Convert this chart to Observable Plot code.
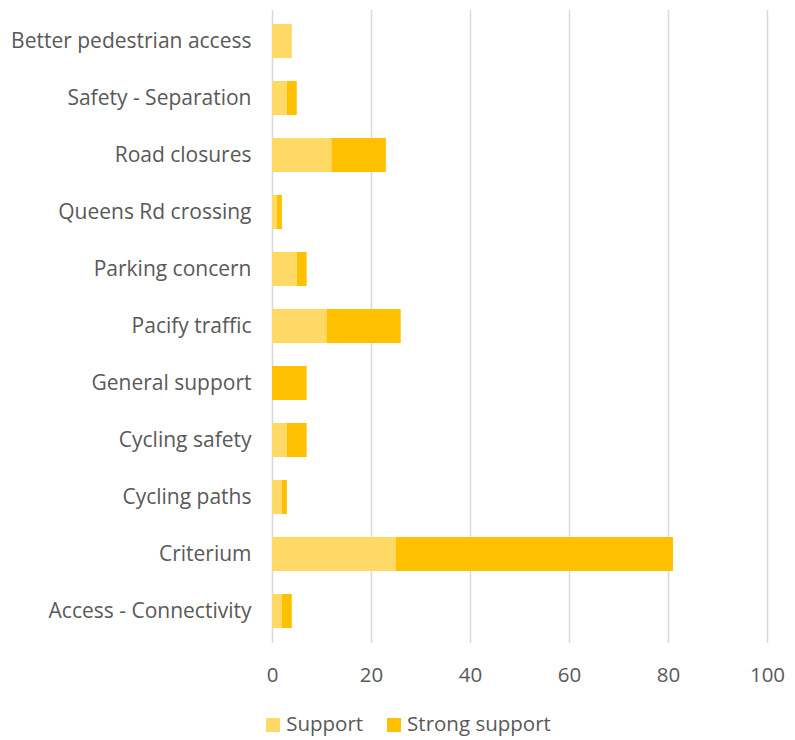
<!DOCTYPE html>
<html>
<head>
<meta charset="utf-8">
<script src="https://cdn.jsdelivr.net/npm/d3@7"></script>
<script src="https://cdn.jsdelivr.net/npm/@observablehq/plot@0.6"></script>
<style>
  body { margin: 0; background: #fff; font-family: "Open Sans", "Noto Sans", sans-serif; }
  #legend { display: flex; justify-content: center; gap: 24px; font-size: 20.5px; color: #595959; margin-top: 14px; padding-left: 22px; }
  #legend span.sw { display: inline-block; width: 14px; height: 14px; margin-right: 6px; vertical-align: -1px; }
</style>
</head>
<body>
<div id="chart"></div>
<div id="legend"></div>
<script>
const categories = ["Better pedestrian access", "Safety - Separation", "Road closures", "Queens Rd crossing", "Parking concern", "Pacify traffic", "General support", "Cycling safety", "Cycling paths", "Criterium", "Access - Connectivity"];
const support =       [4, 3, 12, 1, 5, 11, 0, 3, 2, 25, 2];
const strongSupport = [0, 2, 11, 1, 2, 15, 7, 4, 1, 56, 2];
const seriesNames = ["Support", "Strong support"];
const seriesColors = ["#FFD966", "#FFC000"];
const xTicks = [0, 20, 40, 60, 80, 100];

const data = [];
categories.forEach((c, i) => {
  data.push({category: c, series: seriesNames[0], value: support[i]});
  data.push({category: c, series: seriesNames[1], value: strongSupport[i]});
});

const chart = Plot.plot({
  width: 795,
  height: 695,
  marginLeft: 272,
  marginRight: 28,
  marginTop: 10,
  marginBottom: 52,
  style: { fontFamily: "'Open Sans', 'Noto Sans', sans-serif", fontSize: "21px", color: "#595959", overflow: "visible" },
  x: { domain: [0, 100], ticks: xTicks, label: null },
  y: { domain: categories, label: null, paddingInner: 0.4, paddingOuter: 0.2 },
  color: { domain: seriesNames, range: seriesColors },
  marks: [
    Plot.gridX(xTicks, { stroke: "#d9d9d9", strokeOpacity: 1, strokeWidth: 1.5 }),
    Plot.barX(data, Plot.stackX({ y: "category", x: "value", fill: "series", order: seriesNames })),
    Plot.axisX({ ticks: xTicks, tickSize: 0, tickPadding: 24, label: null, fontSize: 20.5, fill: "#595959" }),
    Plot.axisY({ tickSize: 0, tickPadding: 21, label: null, fontSize: 21, fill: "#595959" })
  ]
});
document.getElementById("chart").appendChild(chart);

const legend = document.getElementById("legend");
seriesNames.forEach((s, i) => {
  const item = document.createElement("div");
  item.innerHTML = `<span class="sw" style="background:${seriesColors[i]}"></span>${s}`;
  legend.appendChild(item);
});
</script>
</body>
</html>
